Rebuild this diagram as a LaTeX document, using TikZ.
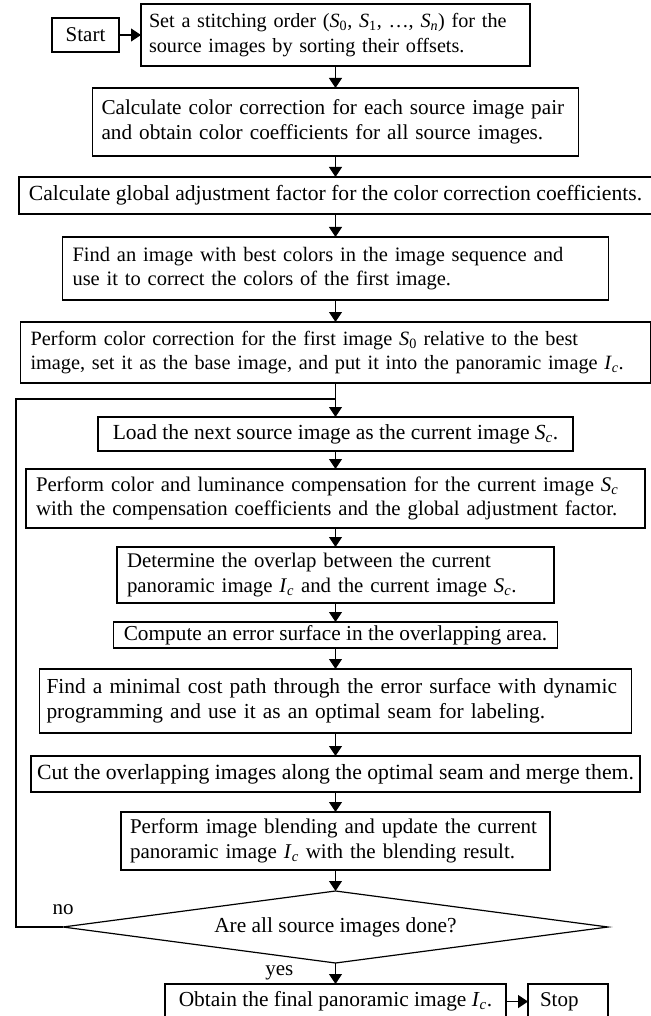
\documentclass[tikz,border=0pt]{standalone}
\usepackage{fontspec}
\setmainfont{Liberation Serif}
\usepackage{tikz}
\usetikzlibrary{arrows.meta,positioning,shapes.geometric}
\newcommand{\ivar}[2]{\textit{#1}\textsubscript{#2}}
\newcommand{\fsz}[1]{\fontsize{#1}{24.5}\selectfont}
\tikzset{
	fc_box/.style = {rectangle, draw=black, line width=1.6pt, inner xsep=10pt,
		inner ysep=0pt, outer sep=0pt, font=\fsz{21}},% plain step box
	fc_two/.style = {fc_box, align=left},% step box, two lines
	fc_one/.style = {fc_box, align=center, font=\fsz{21.5}},% step box, one line
	fc_dec/.style = {diamond, aspect=7.57, draw=black, line width=1.2pt, inner sep=0pt,
		outer sep=0pt, font=\fsz{21.4}},% decision
	fc_lbl/.style = {inner sep=0pt, font=\fsz{21}}% branch label
}

\begin{document}
\begin{tikzpicture}[x=1pt, y=-1pt, >={Triangle[length=10pt,width=13pt]},
	flow/.style={->, line width=1.2pt}]
\useasboundingbox (0,0) rectangle (650,1016);
\node [fc_two, font=\fsz{20.2}, inner xsep=8pt, text width=373pt, minimum height=62pt] (order) at (335.5,35)
	{Set a stitching order (\ivar{S}{0}, \ivar{S}{1}, …, \ivar{S}{\textit{n}}) for the\\
	source images by sorting their offsets.};
\node [fc_one, font=\fsz{21}, minimum width=67pt, minimum height=34pt, left=22pt of order] (start) {Start};
\node [fc_two, font=\fsz{21.2}, inner xsep=9pt, text width=468pt, minimum height=68pt, below=22pt of order] (coef)
	{Calculate color correction for each source image pair\\
	and obtain color coefficients for all source images.};
\node [fc_one, font=\fsz{21.6}, minimum width=630pt, minimum height=37pt, below=21pt of coef] (glob)
	{Calculate global adjustment factor for the color correction coefficients.};
\node [fc_two, font=\fsz{20.5}, text width=526pt, minimum height=63pt, below=23pt of glob] (best)
	{Find an image with best colors in the image sequence and\\
	use it to correct the colors of the first image.};
\node [fc_two, font=\fsz{20.3}, text width=610pt, minimum height=61pt, below=22pt of best] (base)
	{Perform color correction for the first image \ivar{S}{0} relative to the best\\
	image, set it as the base image, and put it into the panoramic image \ivar{I}{\textit{c}}.};
\node [fc_one, minimum width=475pt, minimum height=34pt, below=34pt of base] (load)
	{Load the next source image as the current image \ivar{S}{\textit{c}}.};
\node [fc_two, font=\fsz{20.8}, text width=599pt, minimum height=59pt, below=18pt of load] (comp)
	{Perform color and luminance compensation for the current image \ivar{S}{\textit{c}}\\
	with the compensation coefficients and the global adjustment factor.};
\node [fc_two, font=\fsz{20.8}, text width=417pt, minimum height=56pt, below=19pt of comp] (ovl)
	{Determine the overlap between the current\\
	panoramic image \ivar{I}{\textit{c}} and the current image \ivar{S}{\textit{c}}.};
\node [fc_one, font=\fsz{21.3}, minimum width=444pt, minimum height=26pt, below=19pt of ovl] (err)
	{Compute an error surface in the overlapping area.};
\node [fc_two, font=\fsz{21.4}, inner xsep=7pt, text width=578pt, minimum height=64pt, below=21pt of err] (seam)
	{Find a minimal cost path through the error surface with dynamic\\
	programming and use it as an optimal seam for labeling.};
\node [fc_one, font=\fsz{21.7}, inner xsep=6pt, minimum width=605pt, minimum height=36pt, below=23pt of seam] (cut)
	{Cut the overlapping images along the optimal seam and merge them.};
\node [fc_two, inner xsep=9pt, text width=411pt, minimum height=58pt, below=20pt of cut] (blend)
	{Perform image blending and update the current\\
	panoramic image \ivar{I}{\textit{c}} with the blending result.};
\node [fc_dec, minimum width=545pt, minimum height=72pt, below=21pt of blend] (done)
	{Are all source images done?};
\node [fc_one, font=\fsz{21.4}, minimum width=341pt, minimum height=35pt, below=21pt of done] (final)
	{Obtain the final panoramic image \ivar{I}{\textit{c}}.};
\node [fc_two, inner xsep=12pt, text width=56pt, minimum height=35pt, right=22pt of final] (stop) {Stop};
\node [fc_lbl, above=12pt of done.west] (no) {no};
\node [fc_lbl, below left=2.5pt and 42pt of done.south] (yes) {yes};
\coordinate [below=16pt of base] (join);

\draw [flow] (start) -- (order);
\draw [flow] (order) -- (coef);
\draw [flow] (coef) -- (glob);
\draw [flow] (glob) -- (best);
\draw [flow] (best) -- (base);
\draw [flow] (base) -- (load);
\draw [flow] (load) -- (comp);
\draw [flow] (comp) -- (ovl);
\draw [flow] (ovl) -- (err);
\draw [flow] (err) -- (seam);
\draw [flow] (seam) -- (cut);
\draw [flow] (cut) -- (blend);
\draw [flow] (blend) -- (done);
\draw [flow] (done) -- (final);
\draw [flow] (final) -- (stop);
\draw [line width=1.2pt] (done.west) -- ++(-47,0) |- (join);
\end{tikzpicture}
\end{document}
